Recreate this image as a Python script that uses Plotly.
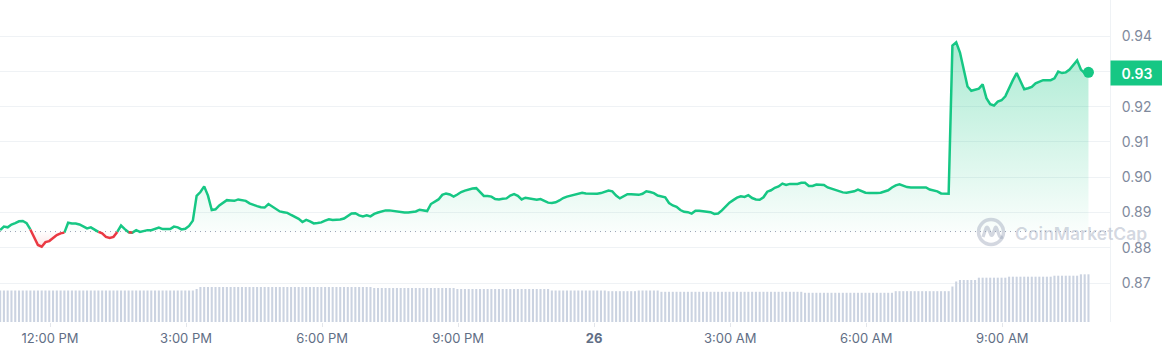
import pandas as pd
import plotly.graph_objects as go

# ---------------- data ----------------
times = pd.date_range("2024-09-25 10:54", periods=289, freq="5min")

prices = [
    0.8850, 0.8860, 0.8858, 0.8866, 0.8870, 0.8875, 0.8876, 0.8870, 0.8852, 0.8828,
    0.8808, 0.8803, 0.8816, 0.8819, 0.8828, 0.8836, 0.8841, 0.8843, 0.8871, 0.8869,
    0.8869, 0.8866, 0.8860, 0.8855, 0.8858, 0.8852, 0.8845, 0.8841, 0.8831, 0.8828,
    0.8831, 0.8845, 0.8863, 0.8853, 0.8844, 0.8843, 0.8850, 0.8845, 0.8848, 0.8850,
    0.8850, 0.8854, 0.8857, 0.8853, 0.8853, 0.8853, 0.8860, 0.8858, 0.8852, 0.8854,
    0.8862, 0.8877, 0.8947, 0.8958, 0.8974, 0.8948, 0.8907, 0.8909, 0.8920, 0.8927,
    0.8935, 0.8934, 0.8933, 0.8937, 0.8934, 0.8933, 0.8926, 0.8921, 0.8918, 0.8915,
    0.8914, 0.8924, 0.8917, 0.8910, 0.8903, 0.8901, 0.8899, 0.8893, 0.8887, 0.8882,
    0.8873, 0.8879, 0.8875, 0.8869, 0.8870, 0.8872, 0.8877, 0.8881, 0.8879, 0.8879,
    0.8880, 0.8883, 0.8890, 0.8897, 0.8898, 0.8892, 0.8889, 0.8892, 0.8889, 0.8896,
    0.8900, 0.8903, 0.8906, 0.8906, 0.8904, 0.8902, 0.8901, 0.8900, 0.8900, 0.8901,
    0.8903, 0.8908, 0.8907, 0.8904, 0.8924, 0.8930, 0.8937, 0.8950, 0.8954, 0.8951,
    0.8945, 0.8951, 0.8958, 0.8962, 0.8966, 0.8968, 0.8969, 0.8957, 0.8947, 0.8947,
    0.8945, 0.8938, 0.8937, 0.8939, 0.8940, 0.8948, 0.8952, 0.8947, 0.8937, 0.8942,
    0.8940, 0.8937, 0.8936, 0.8938, 0.8933, 0.8928, 0.8927, 0.8929, 0.8934, 0.8941,
    0.8945, 0.8948, 0.8950, 0.8953, 0.8956, 0.8954, 0.8953, 0.8952, 0.8953, 0.8955,
    0.8959, 0.8962, 0.8960, 0.8948, 0.8940, 0.8946, 0.8952, 0.8952, 0.8952, 0.8950,
    0.8953, 0.8960, 0.8958, 0.8955, 0.8948, 0.8945, 0.8943, 0.8927, 0.8920, 0.8916,
    0.8907, 0.8902, 0.8901, 0.8897, 0.8905, 0.8905, 0.8903, 0.8901, 0.8901, 0.8896,
    0.8897, 0.8906, 0.8917, 0.8928, 0.8935, 0.8942, 0.8946, 0.8944, 0.8949, 0.8941,
    0.8937, 0.8936, 0.8943, 0.8959, 0.8963, 0.8970, 0.8974, 0.8982, 0.8978, 0.8981,
    0.8981, 0.8981, 0.8984, 0.8984, 0.8975, 0.8975, 0.8979, 0.8979, 0.8978, 0.8971,
    0.8967, 0.8964, 0.8959, 0.8957, 0.8956, 0.8957, 0.8960, 0.8965, 0.8960, 0.8956,
    0.8955, 0.8954, 0.8955, 0.8956, 0.8959, 0.8963, 0.8971, 0.8977, 0.8980, 0.8976,
    0.8972, 0.8971, 0.8971, 0.8973, 0.8973, 0.8971, 0.8965, 0.8963, 0.8960, 0.8954,
    0.8954, 0.8953, 0.9373, 0.9382, 0.9353, 0.9308, 0.9257, 0.9245, 0.9248, 0.9251,
    0.9263, 0.9224, 0.9207, 0.9203, 0.9214, 0.9218, 0.9229, 0.9253, 0.9275, 0.9295,
    0.9270, 0.9249, 0.9252, 0.9256, 0.9266, 0.9271, 0.9275, 0.9275, 0.9275, 0.9280,
    0.9299, 0.9295, 0.9297, 0.9305, 0.9318, 0.9331, 0.9305, 0.9295, 0.9297,
]

# 24h volume (millions), one bar per 5-minute point
volumes = [
    9.78, 9.78, 9.78, 9.78, 9.78, 9.78, 9.78, 9.78, 9.78, 9.78,
    9.78, 9.78, 9.78, 9.78, 9.78, 9.78, 9.78, 9.78, 9.78, 9.78,
    9.78, 9.78, 9.78, 9.78, 9.78, 9.78, 9.78, 9.78, 9.78, 9.78,
    9.78, 9.78, 9.78, 9.78, 9.78, 9.78, 9.78, 9.78, 9.78, 9.78,
    9.78, 9.78, 9.78, 9.78, 9.78, 9.78, 9.78, 9.78, 9.78, 9.78,
    9.78, 9.78, 10.25, 10.87, 10.87, 10.87, 10.87, 10.87, 10.87, 10.87,
    10.87, 10.87, 10.87, 10.87, 10.87, 10.87, 10.87, 10.87, 10.87, 10.87,
    10.87, 10.87, 10.87, 10.87, 10.87, 10.87, 10.87, 10.87, 10.87, 10.87,
    10.87, 10.87, 10.87, 10.87, 10.87, 10.87, 10.87, 10.87, 10.87, 10.87,
    10.87, 10.87, 10.87, 10.87, 10.87, 10.87, 10.87, 10.87, 10.87, 10.56,
    10.56, 10.56, 10.56, 10.56, 10.56, 10.56, 10.56, 10.56, 10.56, 10.56,
    10.56, 10.56, 10.56, 10.56, 10.56, 10.56, 10.56, 10.56, 10.56, 10.56,
    10.56, 10.25, 10.25, 10.25, 10.25, 10.25, 10.25, 10.25, 10.25, 10.25,
    10.25, 10.25, 10.25, 10.25, 10.25, 10.25, 10.25, 10.25, 10.25, 10.25,
    10.25, 10.25, 10.25, 10.25, 10.25, 10.25, 9.78, 9.78, 9.78, 9.78,
    9.78, 9.78, 9.78, 9.78, 9.78, 9.78, 9.78, 9.78, 9.78, 9.78,
    9.78, 9.57, 9.57, 9.57, 9.57, 9.57, 9.57, 9.57, 9.57, 9.78,
    9.78, 9.78, 9.78, 9.78, 9.78, 9.38, 9.38, 9.38, 9.38, 9.38,
    9.38, 9.38, 9.38, 9.38, 9.38, 9.38, 9.38, 9.38, 9.38, 9.38,
    9.38, 9.38, 9.38, 9.38, 9.38, 9.38, 9.38, 9.38, 9.38, 9.38,
    9.38, 9.38, 9.38, 9.38, 9.38, 9.38, 9.38, 9.38, 9.38, 9.38,
    9.38, 9.38, 9.38, 9.07, 9.07, 9.07, 9.07, 9.07, 9.07, 9.07,
    9.07, 9.07, 9.07, 9.07, 9.07, 9.07, 9.07, 9.07, 9.07, 9.07,
    9.07, 9.07, 9.07, 9.07, 9.07, 9.07, 9.07, 9.57, 9.57, 9.57,
    9.57, 9.57, 9.57, 9.57, 9.57, 9.57, 9.57, 9.57, 9.57, 9.57,
    9.57, 9.57, 11.02, 12.58, 13.04, 13.04, 13.04, 13.04, 13.04, 13.76,
    13.76, 13.76, 13.76, 13.76, 13.76, 13.76, 13.76, 14.07, 14.07, 14.07,
    14.07, 14.07, 14.07, 14.07, 14.07, 14.07, 14.07, 14.07, 14.07, 14.38,
    14.38, 14.38, 14.38, 14.38, 14.38, 14.38, 14.81, 14.81, 14.81,
]

open_price = 0.8846

y_ticks = [0.87, 0.88, 0.89, 0.90, 0.91, 0.92, 0.93, 0.94]
x_tick_times = ["2024-09-25 12:00", "2024-09-25 15:00", "2024-09-25 18:00",
                "2024-09-25 21:00", "2024-09-26 00:00", "2024-09-26 03:00",
                "2024-09-26 06:00", "2024-09-26 09:00"]
x_tick_text = ["12:00 PM", "3:00 PM", "6:00 PM", "9:00 PM", "<b>26</b>",
               "3:00 AM", "6:00 AM", "9:00 AM"]

# ---------------- styling ----------------
GREEN = "#16c784"
RED = "#ea3943"
WM = "rgba(150,160,182,0.42)"

n = len(prices)
green_line = [None] * n
red_line = [None] * n
for i in range(n - 1):
    tgt = green_line if (prices[i] + prices[i + 1]) / 2 >= open_price else red_line
    tgt[i] = prices[i]
    tgt[i + 1] = prices[i + 1]

base = [open_price] * n

fig = go.Figure()

fig.add_trace(go.Bar(x=times, y=volumes, yaxis="y2", marker_color="#cbd3e1",
                     marker_line_width=0, width=5 * 60 * 1000 * 0.55,
                     hoverinfo="skip"))

fig.add_trace(go.Scatter(x=times, y=base, mode="lines", line=dict(width=0),
                         hoverinfo="skip"))
fig.add_trace(go.Scatter(
    x=times, y=[max(p, open_price) for p in prices], mode="lines",
    line=dict(width=0), fill="tonexty", hoverinfo="skip",
    fillgradient=dict(type="vertical", start=open_price, stop=max(prices),
                      colorscale=[[0, "rgba(22,199,132,0.02)"],
                                  [1, "rgba(22,199,132,0.36)"]])))
fig.add_trace(go.Scatter(x=times, y=base, mode="lines", line=dict(width=0),
                         hoverinfo="skip"))
fig.add_trace(go.Scatter(
    x=times, y=[min(p, open_price) for p in prices], mode="lines",
    line=dict(width=0), fill="tonexty", hoverinfo="skip",
    fillgradient=dict(type="vertical", start=min(prices), stop=open_price,
                      colorscale=[[0, "rgba(234,57,67,0.12)"],
                                  [1, "rgba(234,57,67,0.0)"]])))

fig.add_trace(go.Scatter(x=times, y=green_line, mode="lines",
                         line=dict(color=GREEN, width=2.5), connectgaps=False))
fig.add_trace(go.Scatter(x=times, y=red_line, mode="lines",
                         line=dict(color=RED, width=2.5), connectgaps=False))
fig.add_trace(go.Scatter(x=[times[-1]], y=[prices[-1]], mode="markers",
                         marker=dict(size=11, color=GREEN)))

# dotted open-price line
fig.add_shape(type="line", xref="paper", x0=0, x1=1, yref="y",
              y0=open_price, y1=open_price, layer="below",
              line=dict(color="#9aa3b5", width=1, dash="1px,4px"))

# current price tag
fig.add_annotation(xref="paper", x=1, xanchor="left", yref="y", y=prices[-1],
                   text=f"{prices[-1]:.2f}", showarrow=False,
                   bgcolor=GREEN, width=48, height=20, borderpad=2,
                   align="center", valign="middle", yshift=-1,
                   font=dict(family="Inter", size=14, color="white", weight=600))

# watermark
fig.add_annotation(xref="paper", x=1013 / 1110, xanchor="left",
                   yref="paper", y=(322 - 234) / 322, yanchor="middle",
                   text="CoinMarketCap", showarrow=False,
                   font=dict(family="Inter", size=17.5, color=WM, weight=600))
fig.add_shape(type="circle", xref="paper", yref="paper",
              xsizemode="pixel", ysizemode="pixel",
              xanchor=991 / 1110, yanchor=(322 - 232) / 322,
              x0=-12.5, x1=12.5, y0=-12.5, y1=12.5,
              line=dict(color=WM, width=3.5))
fig.add_shape(type="path", xref="paper", yref="paper",
              xsizemode="pixel", ysizemode="pixel",
              xanchor=991 / 1110, yanchor=(322 - 232) / 322,
              path="M -8,-5 L -5,4 Q -4,6 -3,4 L 0,-3 Q 1,-4 2,-2 L 4,4 Q 5,6 6,3 L 8,-3 Q 9,-6 12,-5",
              line=dict(color=WM, width=3.2))

fig.update_layout(
    width=1162, height=355,
    margin=dict(l=0, r=52, t=0, b=33, autoexpand=False),
    paper_bgcolor="white", plot_bgcolor="white",
    showlegend=False,
    xaxis=dict(type="date",
               range=["2024-09-25 10:53:50", "2024-09-26 11:22:30"],
               tickvals=x_tick_times, ticktext=x_tick_text,
               showgrid=False, zeroline=False,
               ticks="outside", ticklen=4, tickcolor="#e3e6eb",
               showline=False,
               tickfont=dict(family="Inter", size=13, color="#616e85")),
    yaxis=dict(side="right", range=[0.85898, 0.9502],
               tickvals=y_ticks, ticktext=[f"{v:.2f}" for v in y_ticks],
               showgrid=True, gridcolor="#eff2f5", gridwidth=1,
               zeroline=False, showline=True, linecolor="#eff2f5",
               ticks="", ticklabelstandoff=8,
               tickfont=dict(family="Inter", size=14, color="#808a9d")),
    yaxis2=dict(overlaying="y", range=[0, 100], visible=False),
)

fig.write_html("out.html")
